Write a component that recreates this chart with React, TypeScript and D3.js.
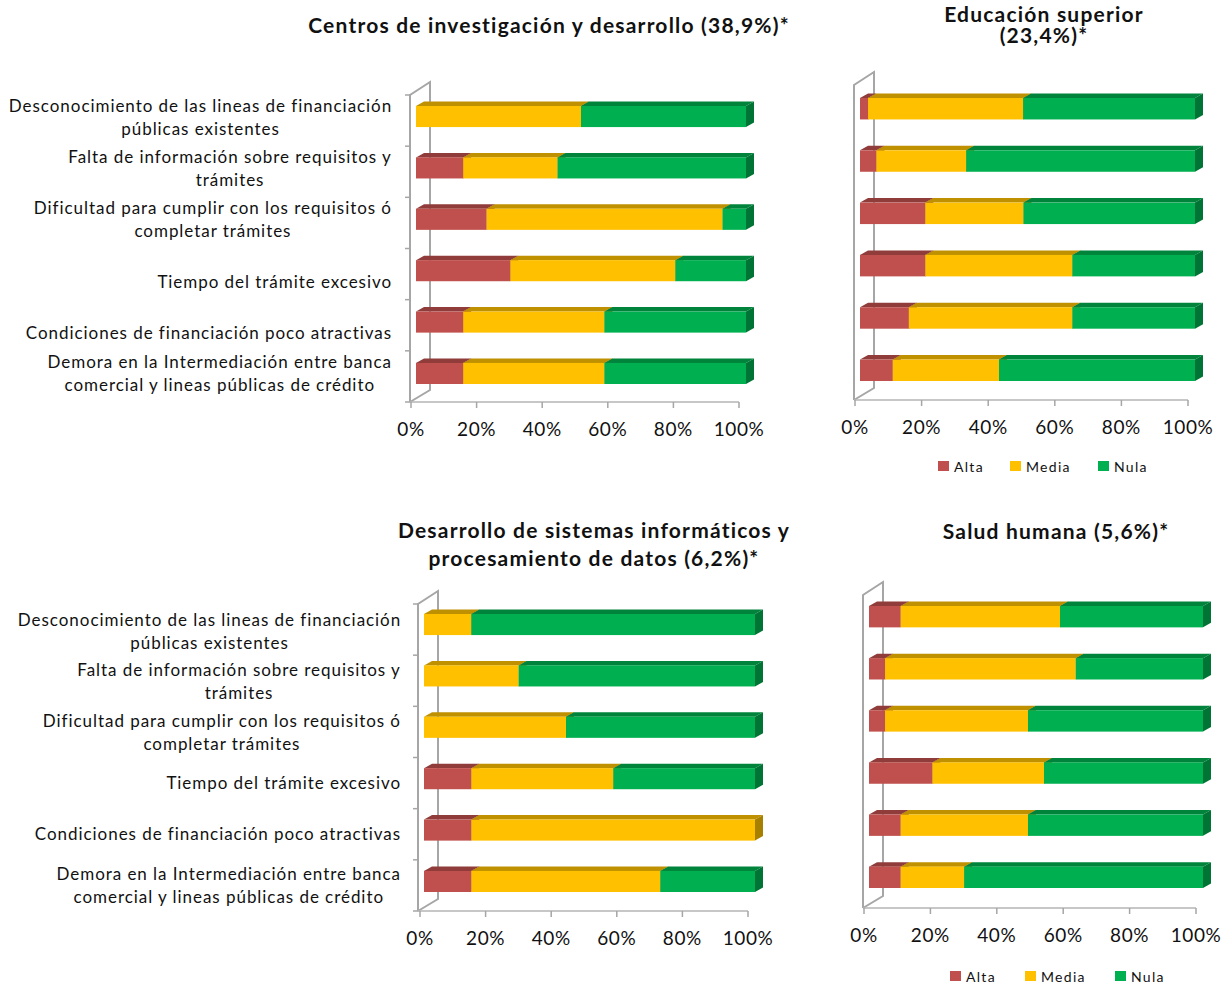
import * as d3 from "d3";

const categories = [
  ["Desconocimiento de las lineas de financiación", "públicas existentes"],
  ["Falta de información sobre requisitos y", "trámites"],
  ["Dificultad para cumplir con los requisitos ó", "completar trámites"],
  ["Tiempo del trámite excesivo"],
  ["Condiciones de financiación poco atractivas"],
  ["Demora en la Intermediación entre banca", "comercial y lineas públicas de crédito"],
];
const ticks = [0, 20, 40, 60, 80, 100];
const seriesNames = ["Alta", "Media", "Nula"];
const colors = ["#C0504D", "#FFC000", "#00B050"];
const topColors = ["#8F3C3A", "#BF9000", "#00843C"];
const sideColors = ["#8F3C3A", "#A88000", "#007434"];

const altaCentros = [0, 14.3, 21.4, 28.6, 14.3, 14.3];
const mediaCentros = [50, 28.6, 71.5, 50, 42.8, 42.8];
const nulaCentros = [50, 57.1, 7.1, 21.4, 42.9, 42.9];

const altaEducacion = [2.4, 4.9, 19.5, 19.5, 14.6, 9.8];
const mediaEducacion = [46.3, 26.8, 29.3, 43.9, 48.8, 31.7];
const nulaEducacion = [51.3, 68.3, 51.2, 36.6, 36.6, 58.5];

const altaSistemas = [0, 0, 0, 14.3, 14.3, 14.3];
const mediaSistemas = [14.3, 28.6, 42.9, 42.9, 85.7, 57.1];
const nulaSistemas = [85.7, 71.4, 57.1, 42.8, 0, 28.6];

const altaSalud = [9.5, 4.8, 4.8, 19, 9.5, 9.5];
const mediaSalud = [47.7, 57.1, 42.8, 33.4, 38.1, 19];
const nulaSalud = [42.8, 38.1, 52.4, 47.6, 52.4, 71.5];

const FONT = "Lato, 'Open Sans', sans-serif";
const DX = 8;
const DY = 4.5;
const GRAY = "#a6a6a6";
const LABEL_SPACING = 0.95;

const ctx = document.createElement("canvas").getContext("2d");

function labelWidth(s: string) {
  ctx.font = `17px ${FONT}`;
  return ctx.measureText(s).width + s.length * LABEL_SPACING;
}

function Panel({ alta, media, nula, axisX, axisTop, axisY, barX, barY, labelRight, labelY, singleDy, wallX, legend, legendY }: any) {
  const rows = categories.map((c, i) => ({ key: i, Alta: alta[i], Media: media[i], Nula: nula[i] }));
  const stacked = d3.stack().keys(seriesNames)(rows as any);

  const xAxis = d3.scaleLinear().domain([0, 100]).range(axisX);
  const xBar = d3.scaleLinear().domain([0, 100]).range(barX);
  const yBar = d3.scaleBand().domain(categories.map((_, i) => String(i))).range(barY).paddingInner(0.59).paddingOuter(0);
  const yTick = d3.scalePoint().domain(d3.range(7).map(String)).range([axisTop, axisY]);

  const hasLabels = !!labelY;
  const yLabel = d3.scalePoint().domain(categories.map((_, i) => String(i))).range(labelY || [0, 0]);

  const x0 = wallX;
  const backX = x0 + 20;

  return (
    <g>
      <polyline
        points={`${x0},${axisY} ${x0},${axisTop} ${backX},${axisTop - 13} ${backX},${axisY - 12} ${x0},${axisY}`}
        fill="none"
        stroke={GRAY}
        strokeWidth={2}
      />
      <line x1={x0} x2={axisX[1]} y1={axisY} y2={axisY} stroke="#b5b5b5" strokeWidth={1.5} />
      {hasLabels &&
        yTick.domain().map((d) => (
          <line key={d} x1={x0 - 5} x2={x0} y1={yTick(d)} y2={yTick(d)} stroke={GRAY} strokeWidth={1.5} />
        ))}
      {ticks.map((t) => (
        <g key={t} transform={`translate(${xAxis(t)},${axisY})`}>
          <line y1={0} y2={6} stroke={GRAY} strokeWidth={1.5} />
          <text y={34} textAnchor="middle" fontSize={19} fontFamily={FONT} fill="#111" letterSpacing={0.6}>
            {t}%
          </text>
        </g>
      ))}

      {stacked.map((s, si) =>
        s.map((d, i) => {
          const l = xBar(d[0]);
          const r = xBar(d[1]);
          if (r - l < 0.5) return null;
          const y = yBar(String(i));
          const h = yBar.bandwidth();
          return (
            <g key={`${si}-${i}`}>
              <polygon points={`${l},${y} ${l + DX},${y - DY} ${r + DX},${y - DY} ${r},${y}`} fill={topColors[si]} />
              <polygon points={`${r},${y} ${r + DX},${y - DY} ${r + DX},${y + h - DY} ${r},${y + h}`} fill={sideColors[si]} />
              <rect x={l} y={y} width={r - l} height={h} fill={colors[si]} />
            </g>
          );
        })
      )}

      {hasLabels &&
        categories.map((lines, i) => {
          const c = yLabel(String(i));
          const w = d3.max(lines, labelWidth);
          const cx = labelRight - w / 2;
          return (
            <text key={i} textAnchor="middle" fontSize={17} fontFamily={FONT} fill="#111" letterSpacing={LABEL_SPACING}>
              {lines.map((line, j) => (
                <tspan key={j} x={cx} y={lines.length === 1 ? c + 6 + singleDy : c - 5.5 + j * 23}>
                  {line}
                </tspan>
              ))}
            </text>
          );
        })}

      {legend &&
        seriesNames.map((n, i) => (
          <g key={n} transform={`translate(${legend[i]},${legendY})`}>
            <rect width={11} height={10} fill={colors[i]} />
            <text x={16} y={11} fontSize={14} fontFamily={FONT} fill="#111" letterSpacing={1.3}>
              {n}
            </text>
          </g>
        ))}
    </g>
  );
}

function Title({ lines, x, ys }: any) {
  return (
    <text textAnchor="middle" fontSize={21} fontWeight={700} fontFamily={FONT} fill="#111" letterSpacing={1.2}>
      {lines.map((l: string, i: number) => (
        <tspan key={i} x={x} y={ys[i]}>
          {l}
        </tspan>
      ))}
    </text>
  );
}

export default function App() {
  return (
    <svg width={1222} height={984} style={{ position: "absolute", left: 0, top: 0, background: "#fff" }}>
      <Title lines={["Centros de investigación y desarrollo (38,9%)*"]} x={549} ys={[33]} />
      <Title lines={["Educación superior", "(23,4%)*"]} x={1044} ys={[22, 43]} />
      <Title lines={["Desarrollo de sistemas informáticos y", "procesamiento de datos (6,2%)*"]} x={594} ys={[538, 566]} />
      <Title lines={["Salud humana (5,6%)*"]} x={1056} ys={[539]} />

      <Panel alta={altaCentros} media={mediaCentros} nula={nulaCentros}
        axisX={[411, 739]} wallX={410} axisTop={95} axisY={402} barX={[416, 746]} barY={[106, 384]}
        labelRight={392} labelY={[117.5, 373]} singleDy={11} />
      <Panel alta={altaEducacion} media={mediaEducacion} nula={nulaEducacion}
        axisX={[855, 1188]} wallX={854} axisTop={85} axisY={400} barX={[860, 1195]} barY={[98, 381]}
        legend={[938, 1010, 1098]} legendY={461} />
      <Panel alta={altaSistemas} media={mediaSistemas} nula={nulaSistemas}
        axisX={[420, 748]} wallX={418} axisTop={604} axisY={911} barX={[424, 755]} barY={[614, 892]}
        labelRight={401} labelY={[631, 885]} singleDy={0} />
      <Panel alta={altaSalud} media={mediaSalud} nula={nulaSalud}
        axisX={[864, 1196]} wallX={863} axisTop={595} axisY={908} barX={[869, 1203]} barY={[606, 888]}
        legend={[950, 1025, 1115]} legendY={971} />
    </svg>
  );
}
